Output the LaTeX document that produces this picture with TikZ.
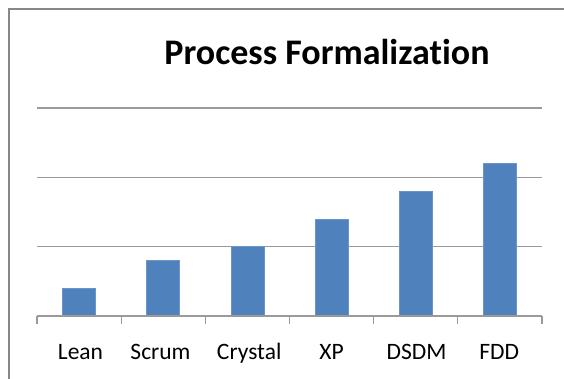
\documentclass[tikz,border=0pt]{standalone}
\usepackage{fontspec}
\setmainfont{Carlito}[Ligatures=NoCommon]
\definecolor{barblue}{HTML}{4F81BD}
\definecolor{baredge}{HTML}{6A95C9}
\definecolor{framegray}{HTML}{878787}
\definecolor{gridgray}{HTML}{9A9A9A}
\tikzset{
  chartframe/.style={draw=framegray, line width=2pt},
  gridline/.style={draw=gridgray, line width=1.2pt},
  axisline/.style={draw=gridgray, line width=1.2pt},
  bar/.style={fill=barblue, draw=baredge, line width=0.6pt},
  catlabel/.style={anchor=base, inner sep=0pt, font=\fontsize{23.5}{28}\selectfont},
  charttitle/.style={anchor=base, inner sep=0pt, font=\fontsize{36}{42}\selectfont\bfseries},
}
\begin{document}
\begin{tikzpicture}[x=1pt, y=-1pt]
  \useasboundingbox (0,0) rectangle (564,379);
  \fill[white] (0,0) rectangle (564,379);
  % outer frame (only top and left edges are inside the page)
  \draw[chartframe] (9,381) -- (9,9) -- (566,9);
  % title
  \node[charttitle] (title) at (327,65) {Process Formalization};
  % horizontal gridlines for values 1, 2, 3
  \foreach \v in {1,2,3} {
    \draw[gridline] (37,{316-69.3*\v}) -- (542,{316-69.3*\v});
  }
  % bars: category centre and value
  \foreach \c/\val in {0/0.4, 1/0.8, 2/1.0, 3/1.4, 4/1.8, 5/2.2} {
    \pgfmathsetmacro{\xc}{37+84.17*\c+42.08}
    \draw[bar] ({\xc-16.5},316) rectangle ({\xc+16.5},{316-69.3*\val});
  }
  % category axis with tick marks
  \draw[axisline] (37,316) -- (542,316);
  \foreach \c in {0,...,6} {
    \draw[axisline] ({37+84.17*\c},316) -- ({37+84.17*\c},324);
  }
  % category labels
  \node[catlabel] (lean)    at (80.5,359) {Lean};
  \node[catlabel] (scrum)   at (160.5,359) {Scrum};
  \node[catlabel] (crystal) at (249.2,359) {Crystal};
  \node[catlabel] (xp)      at (331.6,359) {XP};
  \node[catlabel] (dsdm)    at (416.5,359) {DSDM};
  \node[catlabel] (fdd)     at (499.2,359) {FDD};
\end{tikzpicture}
\end{document}
